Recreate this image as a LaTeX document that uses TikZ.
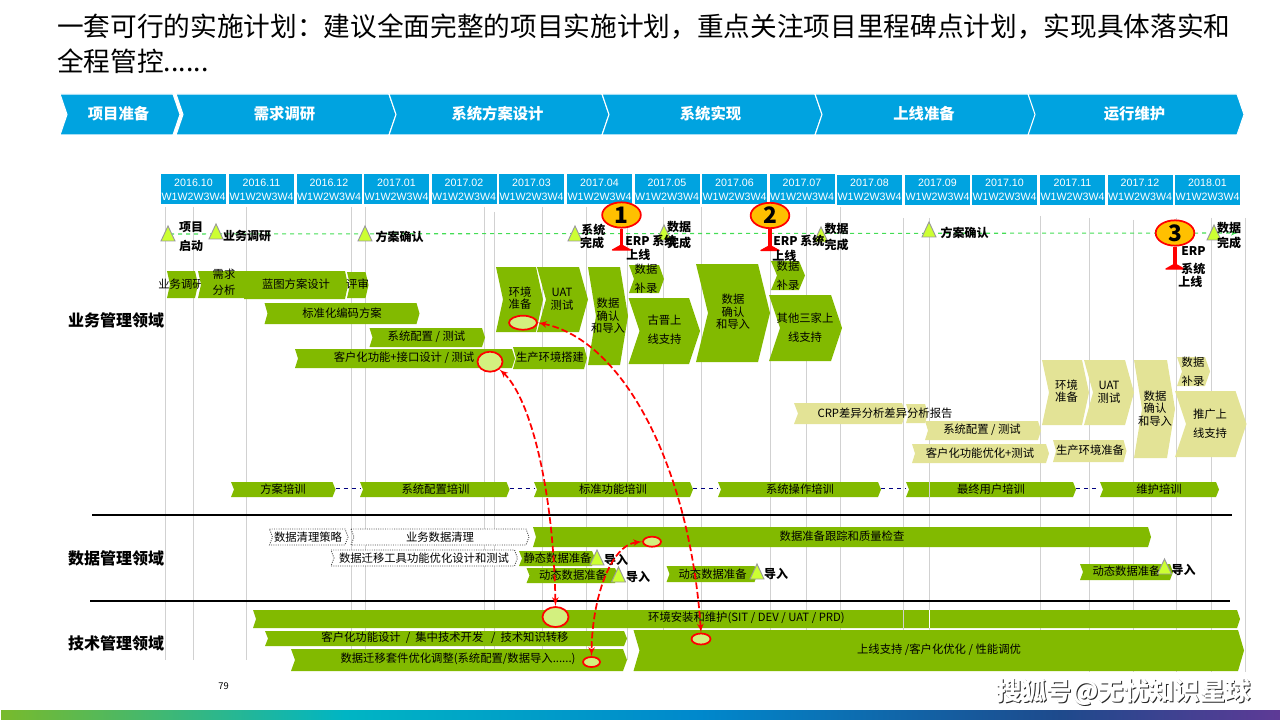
\documentclass[tikz,border=0pt]{standalone}
\usepackage{fontspec}
\setmainfont{Noto Sans CJK SC}
\newfontfamily\latinfont{Liberation Sans}
\usetikzlibrary{arrows}
\usetikzlibrary{shapes.geometric}
\definecolor{mcyan}{HTML}{00A3E0}
\definecolor{mgreen}{HTML}{82BA00}
\definecolor{mkhaki}{HTML}{E3E396}
\definecolor{mlime}{HTML}{CCFF33}
\definecolor{moval}{HTML}{D3F07F}
\definecolor{mgold}{HTML}{FFC000}
\definecolor{mdash}{HTML}{44DD55}
\definecolor{gradone}{HTML}{78BA2C}
\definecolor{gradtwo}{HTML}{00B5C4}
\definecolor{gradthree}{HTML}{0088CC}
\definecolor{gradfour}{HTML}{1E4A8C}
\definecolor{gradfive}{HTML}{5E3A96}
\tikzset{lbl/.style = {inner sep=0, align=center, font=\fontsize{8.5}{9.5}\selectfont},
         milelbl/.style = {inner sep=0, align=center, font=\fontsize{9}{10}\selectfont\bfseries},
         hdr/.style = {fill=mcyan, text=white, inner sep=0, align=center, minimum width=48.75pt,
                       minimum height=22.5pt, font=\latinfont\fontsize{8}{10.5}\selectfont},
         domainlbl/.style = {inner sep=0, font=\fontsize{12}{14}\selectfont\bfseries},
         oval/.style 2 args = {ellipse, draw=red, fill=moval, line width=1.3pt, inner sep=0,
                               minimum width=#1*0.75pt, minimum height=#2*0.75pt},
         flagoval/.style = {ellipse, draw=red, fill=mgold, line width=1.3pt, inner sep=0, minimum width=29pt,
                        minimum height=19pt, font=\fontsize{17}{18}\selectfont\bfseries},
         redlink/.style = {red, line width=1.3pt, dash pattern=on 5pt off 2.2pt, latex'-latex'},
         gline/.style = {color=black!18, line width=0.7pt}}
\newcommand{\chevron}[6]{\path [#1] (#2,#4) -- ({#3-#6},#4) -- (#3,{(#4+#5)/2}) -- ({#3-#6},#5) -- (#2,#5) -- ({#2+#6},{(#4+#5)/2}) -- cycle;}

\begin{document}
\begin{tikzpicture}[x=0.75pt, y=-0.75pt]
    \useasboundingbox (0, 0) rectangle (1280, 720);

    \node [anchor=west, inner sep=0, font=\fontsize{20}{25}\selectfont] (title1) at (57, 27) {一套可行的实施计划：建议全面完整的项目实施计划，重点关注项目里程碑点计划，实现具体落实和};
    \node [anchor=west, inner sep=0, font=\fontsize{20}{25}\selectfont] (title2) at (57, 61) {全程管控......};

    \foreach \nm/\xa/\xb/\lb in {pa/60/180/项目准备, pb/176/396/需求调研, pc/389/609/系统方案设计,
                                 pd/602/822/系统实现, pe/815/1036/上线准备, pf/1028/1244/运行维护} {
        \chevron{fill=mcyan, draw=white, line width=0.8pt}{\xa}{\xb}{94}{135}{7}
        \node [text=white, inner sep=0, font=\fontsize{11.5}{12}\selectfont\bfseries] (\nm) at ({(\xa+\xb)/2-1.5}, 114) {\lb};
    }

    \foreach \lb/\x/\y [count=\i] in {2016.10/193.5/189.5, 2016.11/261.5/189.5, 2016.12/329/189.5, 2017.01/396.5/189.5,
                                      2017.02/464/189.5, 2017.03/531.5/189.5, 2017.04/599.5/189.5, 2017.05/667/189.5,
                                      2017.06/734.5/189.5, 2017.07/802/189.5, 2017.08/869.5/190, 2017.09/937.5/190,
                                      2017.10/1004.5/190, 2017.11/1072.5/190, 2017.12/1140/190, 2018.01/1207.5/190} {
        \node [hdr] (month\i) at (\x, \y) {\lb\\W1W2W3W4};
    }

    \foreach \x/\ya/\yb in {165/207/660, 193.5/207/660, 246.5/207/660, 351/207/660, 365/207/660, 484.5/207/660,
                            494/212/660, 542/207/660, 586.5/207/660, 627/207/660, 663/207/660, 701/207/660,
                            770/207/660, 806.5/207/660, 840/207/660, 903/218/660, 929/218/660, 1040/216/660,
                            1089/218/672, 1133/220/672, 1176/218/672, 1211/218/672, 1245/218/672} {
        \draw [gline] (\x, \ya) -- (\x, \yb);
    }

    \coordinate (milestart) at (170, 234);
    \coordinate (mileend) at (1238, 233);
    \draw [-latex', color=mdash, line width=0.8pt, dashed] (milestart) -- (mileend);

    \node [domainlbl] (dombiz) at (116, 320) {业务管理领域};
    \node [domainlbl] (domdata) at (116, 558) {数据管理领域};
    \node [domainlbl] (domtech) at (116, 643) {技术管理领域};

    \foreach \nm/\xa/\xb/\ya/\yb/\nt/\tx/\ty/\lb in {
        gdy/167/198/271/298/3/181/284/业务调研,
        gxq/198/249/271/298/3/224/282/{需求\\[2.5pt]分析},
        glt/244/348/271/299/3/296/284/蓝图方案设计,
        gps/347/368.5/272/298/3/357.5/284/评审,
        gbm/264.5/419.5/303/324/3/342/313/标准化编码方案,
        gpz/369.5/485/328/347/3/426.5/337/{系统配置 / 测试},
        gkh/295/515/349/368/3/404/358/{客户化功能+接口设计 / 测试},
        gsc/513/587/347/369/3/550/357/生产环境搭建,
        ghj/496/543/267/332/7/520/298/{环境\\准备},
        guat/537/588/267/332/9/562/299/{UAT\\测试},
        gsj/588/628/267/365/8/608/316/{数据\\确认\\和导入},
        gbl/629/664/265/293/5/646/278.5/{数据\\[5pt]补录},
        ggj/628.5/700/298/364/11/664.5/330/{古晋上\\[5pt]线支持},
        gsjb/696/770/264/362/12/733/312/{数据\\确认\\和导入},
        gblb/771/805/261/290/6/788/275.5/{数据\\[5pt]补录},
        gqt/769/842/295/361/11/805/327.5/{其他三家上\\[5pt]线支持},
        gzb/533/1151/527/547/3/842/536/数据准备跟踪和质量检查,
        gjt/519/595/551/566/3/557.5/558/静态数据准备,
        gdta/526.5/618/568/583/3/573/575/动态数据准备,
        gdtb/666.5/757.5/566/582/3/712.6/574/动态数据准备,
        gdtc/1080/1173/564/580/3/1126.5/571/动态数据准备,
        ghw/253/1240/610/628/3/746.5/618/{环境安装和维护(SIT / DEV / UAT / PRD)},
        gkf/265/627/631/646/3/445/638/{客户化功能设计 \ / \ 集中技术开发 \ \ / \ 技术知识转移},
        gqy/291/627/649/671/4/458/659/{数据迁移套件优化调整(系统配置/数据导入......)},
        gsx/633.5/1244/630/671/6/939/650/{上线支持 /客户化优化 / 性能调优}} {
        \chevron{fill=mgreen}{\xa}{\xb}{\ya}{\yb}{\nt}
        \node [lbl] (\nm) at (\tx, \ty) {\lb};
    }

    \foreach \nm/\xa/\xb/\ya/\yb/\nt/\tx/\ty/\lb in {
        khj/1042/1089/360/425/7/1066.5/391/{环境\\准备},
        kuat/1084/1134/360/425/9/1109/392/{UAT\\测试},
        ksj/1134/1175/360/458/8/1155/408.5/{数据\\确认\\和导入},
        kbl/1177/1210/357/386/5/1193/371.5/{数据\\[5pt]补录},
        ktg/1175/1246.5/391/457/11/1210/423.5/{推广上\\[5pt]线支持},
        kcrpb/906/928/404/423/3/917/413/{},
        kcrp/794/906/403/424/4/885/413/{CRP差异分析差异分析报告},
        kpz/925/1041/421/440/3/982/430/{系统配置 / 测试},
        kkh/912/1049/444/463/3/980/453/客户化功能优化+测试,
        ksc/1053/1126.5/440/462/3/1090/450/生产环境准备} {
        \chevron{fill=mkhaki}{\xa}{\xb}{\ya}{\yb}{\nt}
        \node [lbl] (\nm) at (\tx, \ty) {\lb};
    }

    \foreach \nm/\xa/\xb/\tx/\lb in {ta/231/335.5/283/方案培训, tb/360/509.5/435.5/系统配置培训, tc/534/693/613/标准功能培训,
                                     td/718/881/800/系统操作培训, te/906/1076/991/最终用户培训, tf/1100/1219/1159/维护培训} {
        \chevron{fill=mgreen}{\xa}{\xb}{482}{497}{3}
        \coordinate (\nm-w) at (\xa, 488);
        \coordinate (\nm-e) at (\xb, 488);
        \node [lbl] (\nm) at (\tx, 489.5) {\lb};
    }
    \foreach \a/\b in {ta/tb, tb/tc, tc/td, td/te, te/tf} {
        \draw [color=blue!50!black, line width=0.7pt, dashed] (\a-e) -- (\b-w);
    }

    \foreach \nm/\xa/\xb/\ya/\yb/\tx/\ty/\lb in {
        wcl/269.5/348/529/545/308/537/数据清理策略,
        wyw/351/529/529/545/440/537/业务数据清理,
        wqy/331/517.5/550/566/424/558/数据迁移工具功能优化设计和测试} {
        \chevron{fill=white, draw=black!70, line width=0.7pt, densely dotted}{\xa}{\xb}{\ya}{\yb}{3}
        \node [lbl] (\nm) at (\tx, \ty) {\lb};
    }

    \draw [gline] (903, 610) -- (903, 628);
    \draw [gline, color=white] (929, 610) -- (929, 628);
    \draw [gline] (929, 482) -- (929, 497);

    \draw [black, line width=1.5pt] (92, 515) -- (1232, 515);
    \draw [black, line width=1.5pt] (90, 601) -- (1230, 601);

    \foreach \x/\y in {168/226, 216/224, 365/226, 575/226, 664/225, 821/227, 929/222, 1214/225,
                       597/550, 618.5/567, 757/564, 1164.5/559} {
        \filldraw [fill=mlime, draw=black!40, line width=0.7pt] (\x, \y) -- ++(-7, 15) -- ++(14, 0) -- cycle;
    }

    \foreach \nm/\x/\y/\lb in {
        mla/191/236.5/{项目\\[4.5pt]启动},
        mlb/247/236/业务调研,
        mlc/399.5/237/方案确认,
        mld/592/236.5/{\ 系统\\完成\ },
        mle/679/235/{数据\\[2pt]完成},
        mlf/836.5/237/{数据\\[2pt]完成},
        mlg/964.5/233/方案确认,
        mlh/1229/235.5/{数据\\[1.5pt]完成},
        mli/616/560/导入,
        mlj/638/577/导入,
        mlk/776/574/导入,
        mll/1183.5/570/导入} {
        \node [milelbl] (\nm) at (\x, \y) {\lb};
    }

    \foreach \nm/\x/\y/\xb/\yb/\n in {fa/621.5/215/621.5/250/1, fb/770/215.5/770/250.5/2, fc/1175/233/1175/269/3} {
        \coordinate (\nm-b) at (\xb, \yb);
        \filldraw [red, line width=1pt, line join=round] (\xb, \yb) ++(-9, 0) -- ++(9, -5) -- ++(9, 5) -- cycle;
        \node [flagoval] (\nm) at (\x, \y) {\n};
        \draw [red, line width=2.5pt] (\nm) -- (\nm-b);
    }
    \node [milelbl, anchor=west] (erpa) at (625, 241) {ERP 系统};
    \node [milelbl, anchor=west] (erpaa) at (626, 255) {上线};
    \node [milelbl, anchor=west] (erpb) at (773, 241) {ERP 系统};
    \node [milelbl, anchor=west] (erpbb) at (772, 256) {上线};
    \node [milelbl, anchor=west] (erpc) at (1181, 251) {ERP};
    \node [milelbl, anchor=west] (erpcb) at (1181, 269) {系统};
    \node [milelbl, anchor=west] (erpcc) at (1178, 282) {上线};

    \node [oval={28}{14}] (ea) at (523, 322.7) {};
    \node [oval={25}{20}] (eb) at (490, 361.7) {};
    \node [oval={26}{20}] (ec) at (555.5, 617) {};
    \node [oval={17}{10}] (ed) at (591.5, 662) {};
    \node [oval={18}{10}] (ee) at (652, 541.7) {};
    \node [oval={19}{11}] (ef) at (701, 639) {};

    \draw [redlink] (eb.south east) .. controls (528, 395) and (553, 480) .. (ec.north);
    \draw [redlink] (ea.east) .. controls (625, 340) and (690, 470) .. (ef.north);
    \draw [redlink] (ee.west) .. controls (610, 545) and (592, 600) .. (ed.north);

    \node [inner sep=0, font=\fontsize{7}{8}\selectfont] (page) at (223.5, 686) {79};

    \node [text=black!85, inner sep=0, font=\fontsize{19}{20}\selectfont\bfseries] (markb) at (1124.5, 693.5) {搜狐号@无忧知识星球};
    \node [text=white, inner sep=0, font=\fontsize{19}{20}\selectfont\bfseries] (mark) at (1123.5, 692.5) {搜狐号@无忧知识星球};

    \shade [left color=gradone, right color=gradtwo] (1, 710) rectangle (345, 719.5);
    \shade [left color=gradtwo, right color=gradthree] (345, 710) rectangle (700, 719.5);
    \shade [left color=gradthree, right color=gradfour] (700, 710) rectangle (1060, 719.5);
    \shade [left color=gradfour, right color=gradfive] (1060, 710) rectangle (1280, 719.5);
\end{tikzpicture}
\end{document}
